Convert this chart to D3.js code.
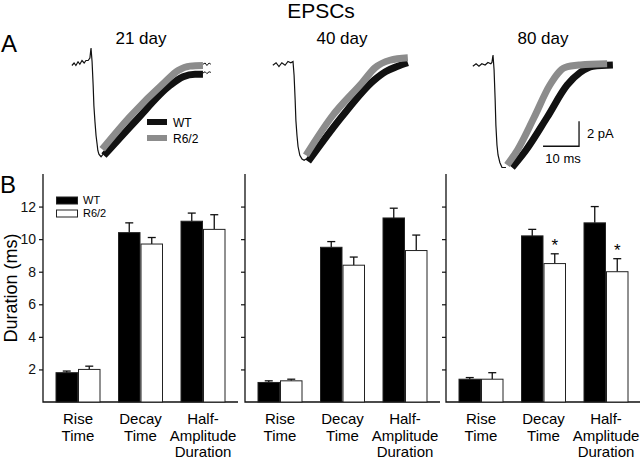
<!DOCTYPE html>
<html>
<head>
<meta charset="utf-8">
<script src="https://cdn.jsdelivr.net/npm/d3@7/dist/d3.min.js"></script>
<style>
  html, body { margin: 0; padding: 0; background: #fff; }
  svg { display: block; font-family: "Liberation Sans", Arial, sans-serif; }
</style>
</head>
<body>
<svg id="chart" width="640" height="460"></svg>
<script>
// ---------------- DATA ----------------
const ages = ["21 day", "40 day", "80 day"];
const categories = ["Rise Time", "Decay Time", "Half-Amplitude Duration"];
const categoryLines = [["Rise", "Time"], ["Decay", "Time"], ["Half-", "Amplitude", "Duration"]];
const genotypes = ["WT", "R6/2"];
const yTicks = [2, 4, 6, 8, 10, 12];

// Panel B: mean duration (ms) and SEM, per age × category
const wtMean  = [[1.8, 10.4, 11.1], [1.2, 9.5, 11.3], [1.4, 10.2, 11.0]];
const wtSem   = [[0.1, 0.6, 0.5],   [0.1, 0.35, 0.6], [0.1, 0.4, 1.0]];
const r62Mean = [[2.0, 9.7, 10.6],  [1.3, 8.4, 9.3],  [1.4, 8.5, 8.0]];
const r62Sem  = [[0.2, 0.4, 0.9],   [0.1, 0.5, 0.95], [0.4, 0.6, 0.8]];
const r62Sig  = [[false, false, false], [false, false, false], [false, true, true]];

// Panel A: traces, [time (ms), current (pA)]
const raw21 = [[-5.3,-0.2],[-4.7,0],[-4.2,-0.2],[-3.6,0.1],[-3.1,-0.1],[-2.5,0.2],[-1.9,0],[-1.4,0.2],[-0.8,0.2],[-0.3,0.4],[0,1.2],[0.3,0.1],[0.6,-1.8],[0.8,-3.4],[1.1,-4.7],[1.4,-5.8],[1.7,-6.5],[1.9,-7.0],[2.2,-7.3],[2.5,-7.4],[2.8,-7.5],[3.1,-7.4],[3.3,-7.3]];
const wt21  = [[3.6,-7.4],[12.5,-4.6],[21.9,-1.8],[25.6,-1.1],[28.9,-0.9],[31.1,-0.9]];
const r6221 = [[3.1,-6.9],[10.8,-4.3],[20.6,-1.5],[24.2,-0.6],[27.5,-0.25],[31.1,-0.2]];
const tailA21 = [[31.1,-0.1],[31.7,0],[32.2,-0.2],[32.8,0],[33.3,-0.1]];
const tailB21 = [[31.1,-0.8],[31.7,-0.7],[32.2,-0.85],[32.8,-0.7],[33.3,-0.75]];

const raw40 = [[-5.6,-0.1],[-4.7,0.1],[-3.9,-0.2],[-3.1,0.1],[-2.2,-0.1],[-1.4,0.2],[-0.6,0.1],[0,0.2],[0.3,-0.9],[0.6,-2.9],[0.8,-4.5],[1.1,-5.7],[1.4,-6.6],[1.9,-7.3],[2.5,-7.6],[3.1,-7.7],[3.6,-7.6]];
const wt40  = [[4.2,-7.8],[13.6,-4.2],[22.5,-1.3],[25.8,-0.6],[28.9,-0.2],[31.9,0.1]];
const r6240 = [[3.6,-7.3],[10.8,-4.2],[19.2,-1.5],[22.8,-0.3],[26.9,0.3],[31.9,0.5]];

const raw80 = [[-5.6,-0.1],[-4.7,0.1],[-3.9,-0.1],[-3.1,0.1],[-2.2,0],[-1.4,0.2],[-0.6,0.1],[-0.3,0.2],[0,0.8],[0.3,-0.4],[0.6,-2.8],[0.8,-4.8],[1.1,-6.4],[1.4,-7.2],[1.9,-7.8],[2.5,-8.2],[3.1,-8.2],[3.6,-8.2]];
const wt80  = [[5.3,-8.2],[9.2,-6.8],[15.0,-4.2],[20.6,-1.6],[24.2,-0.6],[27.8,-0.1],[33.3,0]];
const r6280 = [[3.9,-8.0],[6.8,-6.8],[11.4,-4.2],[15.8,-1.6],[20.0,-0.2],[24.2,0],[31.7,0.1]];

const scaleBarMs = 10, scaleBarPA = 2;

// ---------------- DRAW ----------------
const svg = d3.select("#chart");
const BLACK = "#111", GRAY = "#8c8c8c";

svg.append("text").attr("x", 321).attr("y", 18).attr("text-anchor", "middle")
  .attr("font-size", 21).text("EPSCs");
svg.append("text").attr("x", 1).attr("y", 52).attr("font-size", 24).text("A");
svg.append("text").attr("x", 0).attr("y", 193).attr("font-size", 24).text("B");

// ---- Panel A ----
const traceOrigins = [{x: 91, y: 63}, {x: 293, y: 64}, {x: 493, y: 65}];
const titleX = [141, 342, 543];
const traceSets = [
  {raw: raw21, wt: wt21, r62: r6221, tails: [tailA21, tailB21]},
  {raw: raw40, wt: wt40, r62: r6240, tails: []},
  {raw: raw80, wt: wt80, r62: r6280, tails: []}
];
let lastScales = null;
traceSets.forEach((s, i) => {
  const o = traceOrigins[i];
  const xs = d3.scaleLinear().domain([0, 10]).range([o.x, o.x + 36]);
  const ys = d3.scaleLinear().domain([0, 2]).range([o.y, o.y - 25]);
  const line = d3.line().x(d => xs(d[0])).y(d => ys(d[1]));
  const smooth = d3.line().x(d => xs(d[0])).y(d => ys(d[1])).curve(d3.curveMonotoneX);
  svg.append("text").attr("x", titleX[i]).attr("y", 44).attr("text-anchor", "middle")
    .attr("font-size", 17).text(ages[i]);
  svg.append("path").attr("d", smooth(s.wt)).attr("fill", "none").attr("stroke", BLACK).attr("stroke-width", 7);
  svg.append("path").attr("d", smooth(s.r62)).attr("fill", "none").attr("stroke", GRAY).attr("stroke-width", 7);
  svg.append("path").attr("d", line(s.raw)).attr("fill", "none").attr("stroke", BLACK).attr("stroke-width", 1.2);
  s.tails.forEach(t => svg.append("path").attr("d", line(t)).attr("fill", "none").attr("stroke", BLACK).attr("stroke-width", 1));
  lastScales = {xs, ys};
});

// legend A
const legA = [{name: genotypes[0], c: BLACK, y: 122}, {name: genotypes[1], c: GRAY, y: 138}];
legA.forEach(l => {
  svg.append("line").attr("x1", 147).attr("x2", 167).attr("y1", l.y).attr("y2", l.y)
    .attr("stroke", l.c).attr("stroke-width", 6);
  svg.append("text").attr("x", 173).attr("y", l.y + 4.5).attr("font-size", 12).text(l.name);
});

// scale bar (in panel-3 trace units)
{
  const {xs, ys} = lastScales;
  const t1 = 23.9, i0 = -6.5;
  const x0 = xs(t1 - scaleBarMs), x1 = xs(t1), y0 = ys(i0), y1 = ys(i0 + scaleBarPA);
  svg.append("path").attr("d", `M${x0},${y0}H${x1}V${y1}`).attr("fill", "none")
    .attr("stroke", BLACK).attr("stroke-width", 1.3);
  svg.append("text").attr("x", x1 + 8).attr("y", (y0 + y1) / 2 + 4.5).attr("font-size", 13).text(scaleBarPA + " pA");
  svg.append("text").attr("x", (x0 + x1) / 2 + 2).attr("y", y0 + 17).attr("text-anchor", "middle")
    .attr("font-size", 13).text(scaleBarMs + " ms");
}

// ---- Panel B ----
const y = d3.scaleLinear().domain([0, 14]).range([402, 174]);
const panelX = [43, 245, 446];
const panelW = 195;
const band = d3.scaleBand().domain(categories).range([0, panelW]).paddingInner(0.28).paddingOuter(0.2);
const bw = band.bandwidth() / 2;

panelX.forEach((px, p) => {
  const g = svg.append("g").attr("transform", `translate(${px},0)`);
  const axis = d3.axisLeft(y).tickValues(yTicks).tickSize(4).tickPadding(3)
    .tickFormat(p === 0 ? d3.format("d") : () => "");
  const ag = g.append("g").call(axis);
  ag.select(".domain").remove();
  ag.selectAll("line").attr("stroke", BLACK).attr("stroke-width", 1.2);
  ag.selectAll("text").attr("font-size", 14).attr("fill", BLACK)
    .attr("font-family", '"Liberation Sans", Arial, sans-serif');
  g.append("path").attr("d", `M0,${y(14)}V${y(0)}H${panelW}`).attr("fill", "none")
    .attr("stroke", BLACK).attr("stroke-width", 1.3);

  categories.forEach((c, ci) => {
    const bx = band(c);
    const rows = [
      {m: wtMean[p][ci], e: wtSem[p][ci], x: bx, fill: "#000", sig: false},
      {m: r62Mean[p][ci], e: r62Sem[p][ci], x: bx + bw, fill: "#fff", sig: r62Sig[p][ci]}
    ];
    rows.forEach(r => {
      const cx = r.x + bw / 2;
      g.append("line").attr("x1", cx).attr("x2", cx).attr("y1", y(r.m)).attr("y2", y(r.m + r.e))
        .attr("stroke", BLACK).attr("stroke-width", 1.3);
      g.append("line").attr("x1", cx - 4).attr("x2", cx + 4).attr("y1", y(r.m + r.e)).attr("y2", y(r.m + r.e))
        .attr("stroke", BLACK).attr("stroke-width", 1.3);
      g.append("rect").attr("x", r.x + 0.5).attr("y", y(r.m)).attr("width", bw - 1)
        .attr("height", y(0) - y(r.m)).attr("fill", r.fill).attr("stroke", "#222").attr("stroke-width", 1);
      if (r.sig) {
        g.append("text").attr("x", cx).attr("y", y(r.m + r.e) - 3).attr("text-anchor", "middle")
          .attr("font-size", 17).text("*");
      }
    });
    categoryLines[ci].forEach((ln, li) => {
      g.append("text").attr("x", bx + band.bandwidth() / 2).attr("y", 424 + li * 16.5)
        .attr("text-anchor", "middle").attr("font-size", 15).text(ln);
    });
  });
});

// y-axis title
svg.append("text").attr("transform", "translate(17,288) rotate(-90)").attr("text-anchor", "middle")
  .attr("font-size", 18).text("Duration (ms)");

// legend B
const legB = [{name: genotypes[0], fill: "#000", y: 197}, {name: genotypes[1], fill: "#fff", y: 210}];
legB.forEach(l => {
  svg.append("rect").attr("x", 56.5).attr("y", l.y).attr("width", 21).attr("height", 7)
    .attr("fill", l.fill).attr("stroke", "#222").attr("stroke-width", 1);
  svg.append("text").attr("x", 83).attr("y", l.y + 7).attr("font-size", 11).text(l.name);
});
</script>
</body>
</html>
